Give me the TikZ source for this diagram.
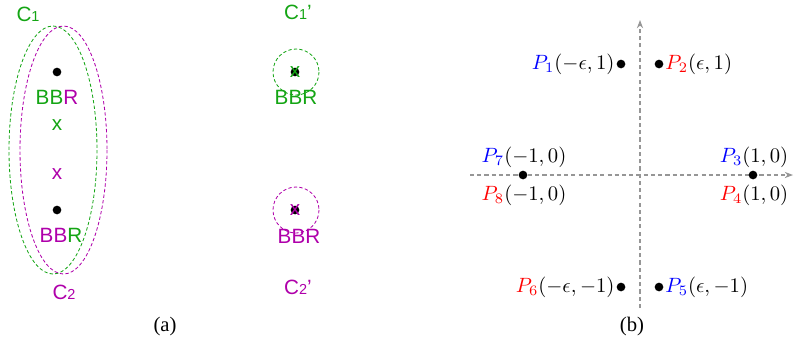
\documentclass[tikz,border=0pt]{standalone}
\usepackage{amsmath,amssymb}
\usepackage[no-math]{fontspec}
\setmainfont{Liberation Serif}
\newfontfamily\hvfont{Liberation Sans}
\usepackage{xcolor}
\usepackage{tikz}
\usetikzlibrary{arrows.meta}
\definecolor{cgreen}{RGB}{20,165,20}
\definecolor{cmagenta}{RGB}{175,0,170}
\definecolor{axisgray}{RGB}{150,150,150}
\newcommand{\Pt}[2]{{\color{#1}P_{#2}}}

\begin{document}
\begin{tikzpicture}[x=0.017cm,y=-0.017cm,
  lbl/.style={font=\hvfont,inner sep=0pt},
  dot/.style={circle,fill=black,inner sep=0pt,minimum size=4.2pt},
  ring/.style={dash pattern=on 1.6pt off 1.1pt,line width=0.4pt},
  axisline/.style={axisgray,dash pattern=on 2pt off 1.5pt,line width=0.5pt,-{Stealth[length=4pt,width=3pt]}},
  plbl/.style={inner sep=1pt}
]
\useasboundingbox (0,0) rectangle (796,352);
% (a) before
\draw[ring,cgreen] (53,150) ellipse [x radius=44,y radius=124];
\draw[ring,cmagenta] (63.5,150) ellipse [x radius=43.5,y radius=124];
\node[lbl,cgreen] (c1) at (28,14) {C{\scriptsize 1}};
\node[dot] (d1) at (57,72) {};
\node[lbl] (b1) at (57,97) {{\color{cgreen}BB}{\color{cmagenta}R}};
\node[lbl,cgreen] (x1) at (57,125) {x};
\node[lbl,cmagenta] (x2) at (57,174) {x};
\node[dot] (d2) at (57,210) {};
\node[lbl] (b2) at (61,235) {{\color{cmagenta}BB}{\color{cgreen}R}};
\node[lbl,cmagenta] (c2) at (64,292) {C{\scriptsize 2}};
% (a) after
\node[lbl,cgreen] (c1p) at (298,12) {C{\scriptsize 1}’};
\draw[ring,cgreen] (296,72) circle [radius=23];
\node[dot] (e1) at (295,72) {};
\node[lbl,cgreen] (y1) at (295,72) {x};
\node[lbl,cgreen] (bb1) at (296,97) {BBR};
\draw[ring,cmagenta] (296,210) circle [radius=23];
\node[dot] (e2) at (295,210) {};
\node[lbl,cmagenta] (y2) at (295,210) {x};
\node[lbl,cmagenta] (bb2) at (299,236) {BBR};
\node[lbl,cmagenta] (c2p) at (298,287) {C{\scriptsize 2}’};
% (b)
\coordinate (xs) at (470,175);
\coordinate (xe) at (793,175);
\coordinate (ys) at (640,308);
\coordinate (ye) at (640,20);
\draw[axisline] (xs) -- (xe);
\draw[axisline] (ys) -- (ye);
\node[dot] (p1) at (621,64) {};
\node[dot] (p2) at (659,64) {};
\node[dot] (p7) at (523,175) {};
\node[dot] (p3) at (753,175) {};
\node[dot] (p6) at (621,287) {};
\node[dot] (p5) at (659,287) {};
\node[plbl,anchor=east] (l1) at (617,64) {$\Pt{blue}{1}(-\epsilon,1)$};
\node[plbl,anchor=west] (l2) at (663,64) {$\Pt{red}{2}(\epsilon,1)$};
\node[plbl] (l7) at (524,157) {$\Pt{blue}{7}(-1,0)$};
\node[plbl] (l8) at (524,195) {$\Pt{red}{8}(-1,0)$};
\node[plbl] (l3) at (754,157) {$\Pt{blue}{3}(1,0)$};
\node[plbl] (l4) at (754,195) {$\Pt{red}{4}(1,0)$};
\node[plbl,anchor=east] (l6) at (617,287) {$\Pt{red}{6}(-\epsilon,-1)$};
\node[plbl,anchor=west] (l5) at (663,287) {$\Pt{blue}{5}(\epsilon,-1)$};
% captions
\node (capa) at (165,327) {(a)};
\node (capb) at (632,327) {(b)};
\end{tikzpicture}
\end{document}
